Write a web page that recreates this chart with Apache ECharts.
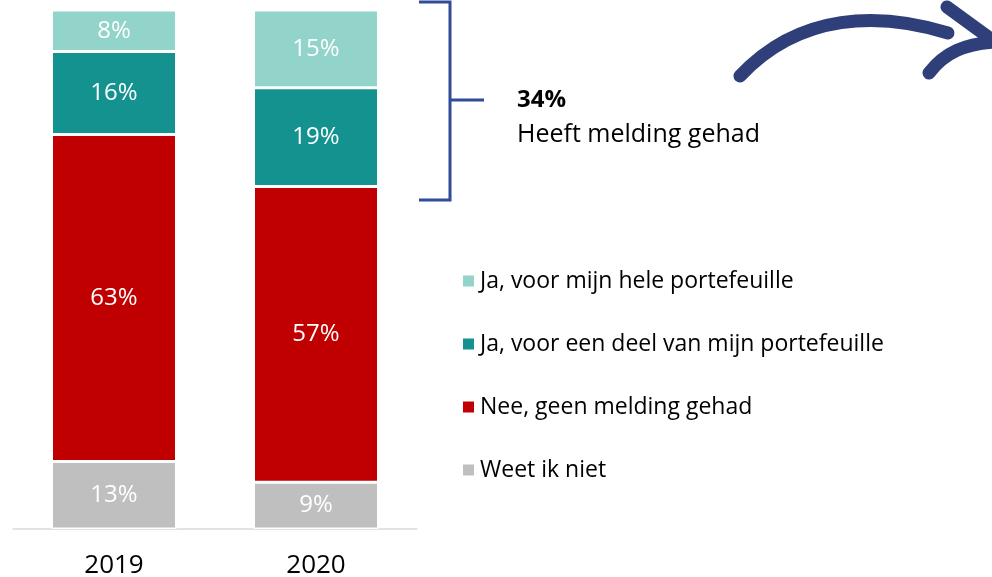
<!DOCTYPE html>
<html>
<head>
<meta charset="utf-8">
<script src="https://cdn.jsdelivr.net/npm/echarts@6/dist/echarts.min.js"></script>
<style>
  html, body { margin: 0; padding: 0; background: #fff; }
  #chart { width: 992px; height: 577px; }
</style>
</head>
<body>
<div id="chart"></div>
<script>
const years = ['2019', '2020']
const seriesNames = [
  'Weet ik niet',
  'Nee, geen melding gehad',
  'Ja, voor een deel van mijn portefeuille',
  'Ja, voor mijn hele portefeuille'
]
const weetNiet = [13, 9]
const nee = [63, 57]
const deel = [16, 19]
const hele = [8, 15]
const colors = ['#BFBFBF', '#C00000', '#149290', '#92D3CA']

const font = '"Open Sans", "Noto Sans", sans-serif'
const navy = '#2F4B99'

const chart = echarts.init(document.getElementById('chart'))

const mk = (name, data, color) => ({
  name,
  type: 'bar',
  stack: 'total',
  barWidth: 125,
  data,
  itemStyle: { color, borderColor: '#fff', borderWidth: 1.5 },
  label: {
    show: true,
    position: 'inside',
    formatter: '{c}%',
    color: '#fff',
    fontFamily: font,
    fontSize: 24
  }
})

// meldingen 2020 = deel + hele
const gemeld = deel[1] + hele[1]

chart.setOption({
  animation: false,
  grid: { left: 13, right: 575, top: 10, bottom: 48, outerBoundsMode: 'none', containLabel: false },
  xAxis: {
    type: 'category',
    data: years,
    axisTick: { show: false },
    axisLine: { lineStyle: { color: '#D9D9D9', width: 1.5 } },
    axisLabel: { color: '#000', fontFamily: font, fontSize: 26, lineHeight: 28, margin: 23 }
  },
  yAxis: { type: 'value', min: 0, max: 100, show: false },
  legend: {
    orient: 'vertical',
    left: 456,
    top: 263,
    itemWidth: 13,
    itemHeight: 13,
    itemGap: 37,
    icon: 'rect',
    data: seriesNames.slice().reverse(),
    textStyle: { color: '#000', fontFamily: font, fontSize: 23, lineHeight: 26 }
  },
  series: [
    mk(seriesNames[0], weetNiet, colors[0]),
    mk(seriesNames[1], nee, colors[1]),
    mk(seriesNames[2], deel, colors[2]),
    mk(seriesNames[3], hele, colors[3])
  ],
  graphic: [
    {
      type: 'polyline',
      shape: { points: [[419, 2], [450, 2], [450, 200], [419, 200]] },
      style: { stroke: navy, lineWidth: 3, fill: null }
    },
    {
      type: 'line',
      shape: { x1: 450, y1: 100, x2: 484, y2: 100 },
      style: { stroke: navy, lineWidth: 3 }
    },
    {
      type: 'text',
      left: 517,
      top: 88,
      style: { text: gemeld + '%', fontFamily: font, fontWeight: 'bold', fontSize: 24, fill: '#000' }
    },
    {
      type: 'text',
      left: 517,
      top: 122,
      style: { text: 'Heeft melding gehad', fontFamily: font, fontSize: 25, fill: '#000' }
    },
    {
      type: 'bezierCurve',
      shape: { x1: 740, y1: 76, cpx1: 800, cpy1: 12, cpx2: 880, cpy2: 12, x2: 948, y2: 33 },
      style: { stroke: '#2E3F7A', lineWidth: 13, lineCap: 'round', fill: null }
    },
    {
      type: 'polyline',
      shape: { points: [[947, 7], [995, 42]] },
      style: { stroke: '#2E3F7A', lineWidth: 13, lineCap: 'round', fill: null }
    },
    {
      type: 'bezierCurve',
      shape: { x1: 929, y1: 73, cpx1: 945, cpy1: 52, cpx2: 965, cpy2: 44, x2: 995, y2: 42 },
      style: { stroke: '#2E3F7A', lineWidth: 13, lineCap: 'round', fill: null }
    }
  ]
})
</script>
</body>
</html>
